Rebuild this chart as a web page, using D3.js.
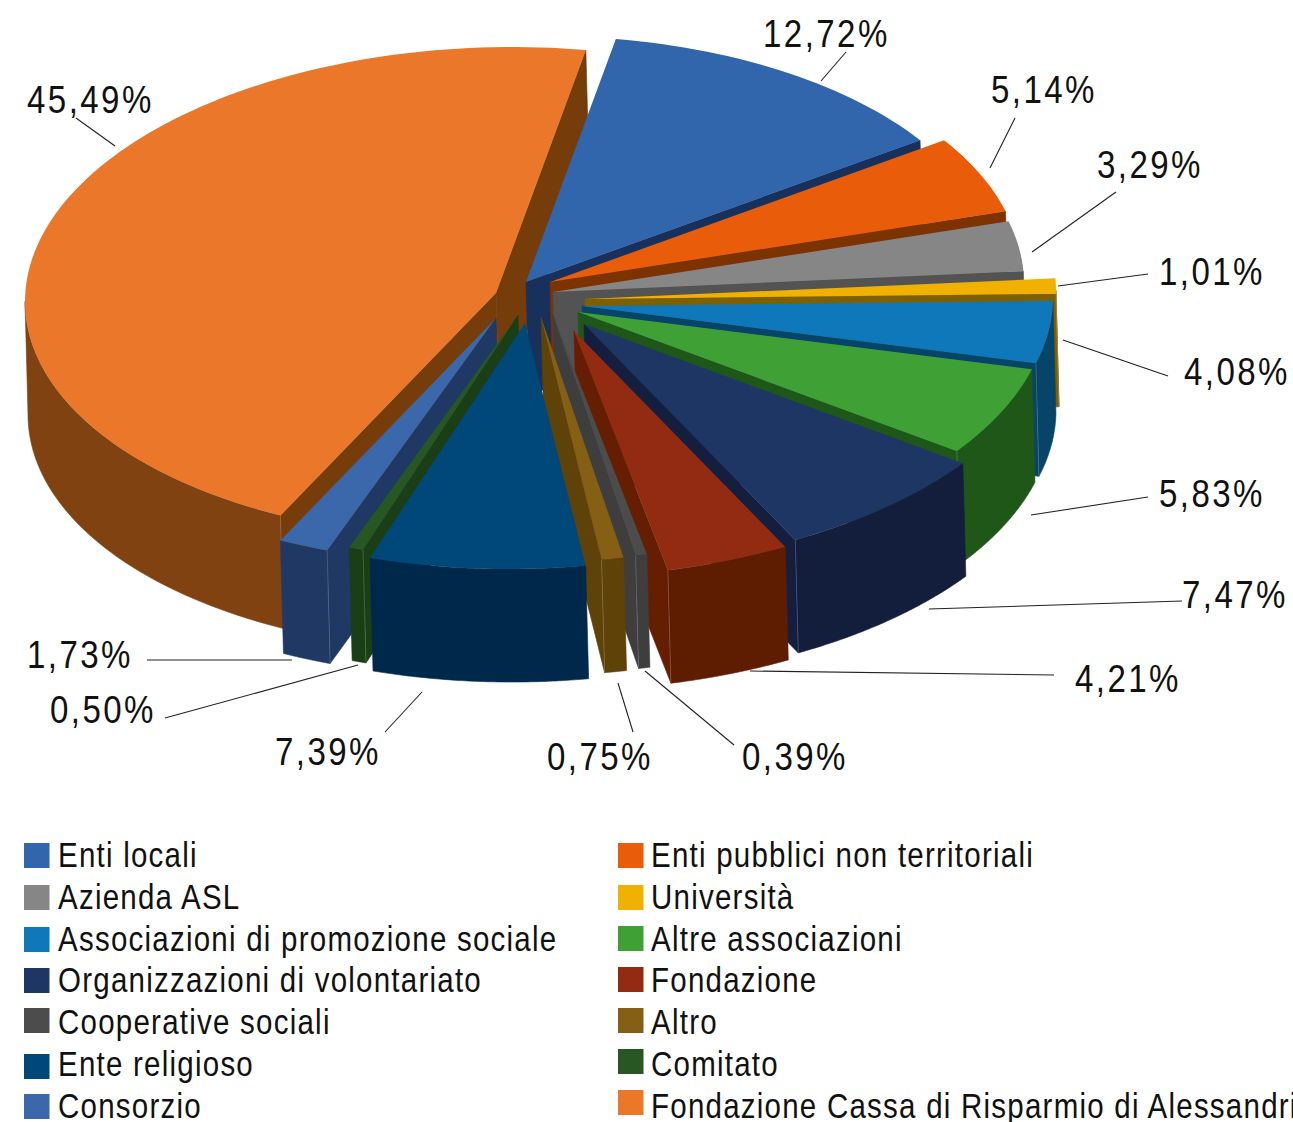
<!DOCTYPE html>
<html><head><meta charset="utf-8">
<script src="https://cdn.jsdelivr.net/npm/d3@7/dist/d3.min.js"></script>
<style>html,body{margin:0;padding:0;background:#fff;overflow:hidden}svg{display:block}
text{font-family:"Liberation Sans",sans-serif;fill:#111}</style>
</head><body><svg id="c" width="1293" height="1122"></svg>
<script>
// ---- data ----
const categories=["Enti locali","Enti pubblici non territoriali","Azienda ASL","Università","Associazioni di promozione sociale","Altre associazioni","Organizzazioni di volontariato","Fondazione","Cooperative sociali","Altro","Ente religioso","Comitato","Consorzio","Fondazione Cassa di Risparmio di Alessandria"];
const shares=[12.72,5.14,3.29,1.01,4.08,5.83,7.47,4.21,0.39,0.75,7.39,0.50,1.73,45.49];
// ---- styles ----
const topColors=["#3165AC","#E85C0A","#858685","#F0B100","#0F78BA","#3FA035","#1E3664","#932B13","#4C4C4C","#845F14","#00477A","#285723","#3B67AB","#EB772A"];
const sideColors=["#17305C","#7C3300","#525352","#7F6000","#064468","#1F5719","#141F40","#661E03","#3E3E3E","#5F4208","#00284A","#1A3F17","#1F3864","#763D0B"];
const rimColors=["#17305C","#7C3300","#525352","#7F6000","#064468","#1F5719","#121E3C","#5E1C00","#3E3E3E","#5F4208","#00284A","#1A3F17","#1F3864","#804210"];
// ---- layout ----
const pieCx=515,pieCy=300,radius=471,tilt=0.522,skew=8.5,depth=113,depthLean=3,firstAngle=11;
const explode=[[11,-18],[35,-18],[38,-8],[70,-1],[67,6],[63,12],[69,24],[59,31],[38,15],[26,17],[10,23],[3,15],[-19,18],[-19,-7]];
const drawOrder=[13,0,1,2,3,4,5,6,7,8,9,12,11,10];
const labelPos=[[763,47],[991,103],[1097,178],[1159,285],[1184,385],[1159,507],[1182,608],[1075,692],[742,770],[547,770],[275,765],[50,723],[27,668],[27,113]];
const leaderPos=[[846,52,821,81],[1015,118,990,168],[1116,192,1032,252],[1148,274,1058,286],[1168,376,1063,340],[1148,497,1031,515],[1182,601,929,609],[1054,675,750,671],[734,745,645,671],[633,732,618,683],[385,732,422,692],[165,718,358,665],[147,660,292,660],[76,118,115,146]];
const legendSwatchY=[[843,885,927,968,1008,1054,1094],[843,885,926,967,1008,1049,1090]];
const labelFont=38,legendFont=36,labelSpacing=2.8,legendSpacing=1.5,labelSqueeze=0.87,legendSqueeze=0.82;

const svg=d3.select("#c");
const slices=d3.pie().sort(null).value(d=>d).startAngle(firstAngle*Math.PI/180).endAngle((firstAngle+360)*Math.PI/180)(shares);
const line=d3.line();
const pct=v=>v.toFixed(2).replace(".",",")+"%";
const rim=(c,a)=>[c[0]+radius*Math.sin(a),c[1]-radius*tilt*Math.cos(a)-skew*Math.sin(a)];
const down=p=>[p[0]+depthLean,p[1]+depth];
const sweep=(a0,a1,n)=>d3.range(0,n+1).map(k=>a0+(a1-a0)*k/n);
const pie=svg.append("g");
const piece=(pts,col)=>pie.append("path").attr("d",line(pts)+"Z").attr("fill",col).attr("stroke",col).attr("stroke-width",0.6);
function radial(c,a,col){
  const p=rim(c,a);piece([c,p,down(p),down(c)],col);
  if(Math.cos(a)<0)pie.append("path").attr("d",line([p,down(p)])).attr("stroke","#fff").attr("stroke-opacity",0.18).attr("fill","none");
}
drawOrder.forEach(i=>{
  const s=slices[i],c=[pieCx+explode[i][0],pieCy+explode[i][1]];
  const a0=Math.max(s.startAngle,Math.PI/2),a1=Math.min(s.endAngle,3*Math.PI/2);
  if(a1>a0){
    const tp=sweep(a0,a1,60).map(a=>rim(c,a));
    piece(tp.concat(tp.map(down).reverse()),rimColors[i]);
  }
  if(Math.sin(s.startAngle)<0)radial(c,s.startAngle,sideColors[i]);
  if(Math.sin(s.endAngle)>0)radial(c,s.endAngle,sideColors[i]);
  const span=Math.max(2,Math.ceil((s.endAngle-s.startAngle)*40));
  pie.append("path").attr("d",line([c].concat(sweep(s.startAngle,s.endAngle,span).map(a=>rim(c,a))))+"Z").attr("fill",topColors[i]);
});
svg.append("g").selectAll("line").data(leaderPos).join("line")
  .attr("x1",d=>d[0]).attr("y1",d=>d[1]).attr("x2",d=>d[2]).attr("y2",d=>d[3])
  .attr("stroke","#222").attr("stroke-width",1.1);
svg.append("g").selectAll("text").data(shares).join("text")
  .attr("transform",(d,i)=>`translate(${labelPos[i][0]},${labelPos[i][1]}) scale(${labelSqueeze},1)`)
  .attr("font-size",labelFont).attr("letter-spacing",labelSpacing).text(pct);
const legend=svg.append("g").selectAll("g").data(categories).join("g");
legend.append("rect").attr("x",(d,i)=>i%2?618:24).attr("y",(d,i)=>legendSwatchY[i%2][Math.floor(i/2)])
  .attr("width",25.5).attr("height",25).attr("fill",(d,i)=>topColors[i]);
legend.append("text")
  .attr("transform",(d,i)=>`translate(${i%2?651:58},${867+41.8*Math.floor(i/2)}) scale(${legendSqueeze},1)`)
  .attr("font-size",legendFont).attr("letter-spacing",legendSpacing).text(d=>d);
</script></body></html>
